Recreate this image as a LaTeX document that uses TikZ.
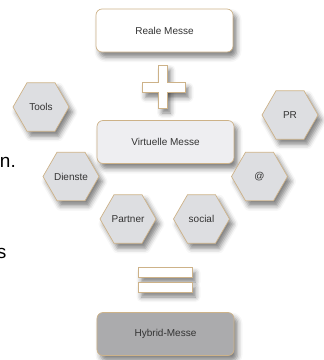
\documentclass[tikz,border=0pt]{standalone}
\usepackage{fontspec}
\setmainfont{Liberation Sans}
\usetikzlibrary{shapes.geometric,shadows.blur}
\definecolor{tan}{HTML}{CDB288}
\definecolor{hexfill}{HTML}{DDDEE1}
\definecolor{vfill}{HTML}{EEEEF1}
\definecolor{hfill}{HTML}{ABABAD}
\definecolor{txt}{HTML}{333333}
\tikzset{
  shad/.style={blur shadow={shadow xshift=3.5pt,shadow yshift=-5pt,shadow blur radius=5pt,shadow opacity=50}},
  mbox/.style={draw=tan,line width=0.7pt,rounded corners=6pt,minimum width=137pt,minimum height=43pt,
    inner sep=0pt,font=\fontsize{10}{12}\selectfont,text=txt,shad},
  hexa/.style={regular polygon,regular polygon sides=6,draw=tan,line width=0.7pt,
    fill=hexfill,minimum size=56pt,inner sep=0pt,font=\fontsize{10}{12}\selectfont,text=txt,shad},
  barnode/.style={rectangle,fill=white,inner sep=0pt,outer sep=0pt,shad},
  eqbar/.style={rectangle,draw=tan,line width=0.7pt,fill=white,inner sep=0pt,minimum width=54pt,minimum height=9.5pt,shad},
  frag/.style={font=\fontsize{19}{22}\selectfont,text=black,inner sep=0pt,anchor=base east}
}
\begin{document}
\begin{tikzpicture}[x=1pt,y=1pt]
\useasboundingbox (0,0) rectangle (324,-360);
% fragments
\node[frag] (fn) at (16,-167) {n.};
\node[frag] (fs) at (6.5,-258) {s};
% boxes
\node[mbox,fill=white] (reale) at (164.5,-30.5) {Reale Messe};
\node[mbox,fill=vfill] (virt) at (165.5,-142) {Virtuelle Messe};
\node[mbox,fill=hfill] (hyb) at (165.5,-334) {Hybrid-Messe};
% plus
\node[barnode,minimum width=8.5pt,minimum height=43pt] (pv) at (162.75,-86.5) {};
\node[barnode,minimum width=43pt,minimum height=10pt] (ph) at (163.5,-87.5) {};
\draw[draw=tan,line width=0.7pt,fill=white] (158.5,-65) -- (167,-65) -- (167,-82.5) -- (185,-82.5) -- (185,-92.5) -- (167,-92.5) -- (167,-108)
  -- (158.5,-108) -- (158.5,-92.5) -- (142,-92.5) -- (142,-82.5) -- (158.5,-82.5) -- cycle;
% equals
\node[eqbar] (eq1) at (165,-272.25) {};
\node[eqbar] (eq2) at (165,-287.25) {};
% hexagons
\node[hexa] (tools) at (41,-107) {Tools};
\node[hexa] (pr) at (290,-115) {PR};
\node[hexa] (dienste) at (71,-176.5) {Dienste};
\node[hexa] (at) at (259.5,-176.5) {@};
\node[hexa] (partner) at (128,-219) {Partner};
\node[hexa] (social) at (201.5,-219) {social};
\end{tikzpicture}
\end{document}
